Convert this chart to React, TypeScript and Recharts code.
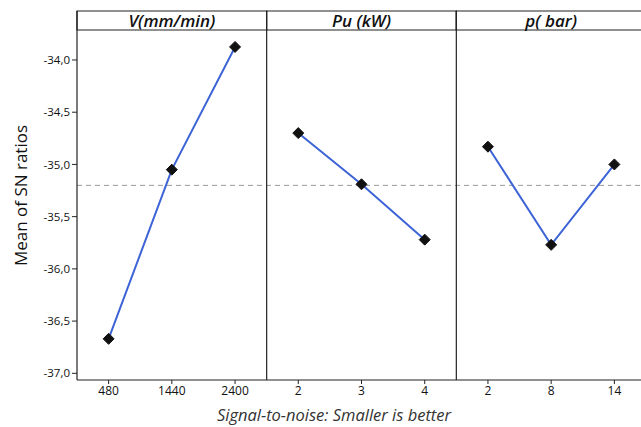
import React from 'react';
import { ComposedChart, Line, XAxis, YAxis, ReferenceLine, ReferenceArea, Label } from 'recharts';

// Factor names and their levels
const factorNames = ['V(mm/min)', 'Pu (kW)', 'p( bar)'];
const vLevels = ['480', '1440', '2400'];
const puLevels = ['2', '3', '4'];
const pLevels = ['2', '8', '14'];

// Mean of SN ratios per level
const vMeans = [-36.67, -35.05, -33.875];
const puMeans = [-34.7, -35.19, -35.72];
const pMeans = [-34.83, -35.77, -35.0];

const yTicks = [-37.0, -36.5, -36.0, -35.5, -35.0, -34.5, -34.0];

const levelSets = [vLevels, puLevels, pLevels];
const meanSets = [vMeans, puMeans, pMeans];
const allLabels = levelSets.flat();
const allValues = meanSets.flat();
const grandMean = allValues.reduce((a, b) => a + b, 0) / allValues.length;

const panelData = meanSets.map((vals, pi) =>
  vals.map((v, i) => ({ x: pi * 3 + i + 0.5, sn: v, label: levelSets[pi][i] }))
);

const yMin = -37.064;
const yMax = -33.531;
const headerBottom = -33.713;

const xTicks = allLabels.map((_, i) => i + 0.5);

const FONT = '"Open Sans", sans-serif';

const Diamond = (props: any) => {
  const { cx, cy } = props;
  if (cx == null || cy == null) return null;
  const r = 5.5;
  return (
    <path
      d={`M${cx},${cy - r}L${cx + r},${cy}L${cx},${cy + r}L${cx - r},${cy}Z`}
      fill="#111"
      stroke="#111"
    />
  );
};

const YTitle = (props: any) => {
  const vb = props.viewBox || {};
  const cy = vb.y + vb.height / 2;
  const x = 27;
  return (
    <text
      x={x}
      y={cy}
      transform={`rotate(-90, ${x}, ${cy})`}
      textAnchor="middle"
      fontFamily={FONT}
      fontSize={17}
      fill="#111"
    >
      Mean of SN ratios
    </text>
  );
};

const XTitle = (props: any) => {
  const vb = props.viewBox || {};
  return (
    <text
      x={334}
      y={vb.y + 41}
      textAnchor="middle"
      fontFamily={FONT}
      fontStyle="italic"
      fontSize={16.5}
      fill="#333"
    >
      Signal-to-noise: Smaller is better
    </text>
  );
};

export default function App() {
  return (
    <div style={{ position: 'absolute', left: 0, top: 0, width: 641, height: 427, overflow: 'hidden', background: '#fff' }}>
      <ComposedChart width={646} height={427} margin={{ top: 11, right: 0, bottom: 0, left: 0 }}>
        <XAxis
          type="number"
          dataKey="x"
          domain={[0, 9]}
          ticks={xTicks}
          interval={0}
          allowDataOverflow
          height={47}
          tickSize={4}
          tickLine={{ stroke: '#222' }}
          axisLine={{ stroke: '#222', strokeWidth: 1.2 }}
          tick={{ fontFamily: FONT, fontSize: 12, fill: '#111' }}
          tickFormatter={(v: number) => allLabels[Math.floor(v)]}
        >
          <Label content={<XTitle />} />
        </XAxis>
        <YAxis
          type="number"
          domain={[yMin, yMax]}
          ticks={yTicks}
          interval={0}
          allowDataOverflow
          width={77}
          tickSize={5}
          tickLine={{ stroke: '#222' }}
          axisLine={{ stroke: '#222', strokeWidth: 1.2 }}
          tick={{ fontFamily: FONT, fontSize: 11.5, fill: '#111' }}
          tickFormatter={(v: number) => v.toFixed(1).replace('.', ',')}
        >
          <Label content={<YTitle />} />
        </YAxis>
        <ReferenceLine y={grandMean} stroke="#9a9a9a" strokeDasharray="5 4" strokeWidth={1} />
        {[3, 6].map((x) => (
          <ReferenceLine key={x} x={x} stroke="#222" strokeWidth={1.2} ifOverflow="visible" />
        ))}
        {factorNames.map((name, i) => (
          <ReferenceArea
            key={name}
            x1={i * 3}
            x2={i * 3 + 3}
            y1={headerBottom}
            y2={yMax}
            fill="#fff"
            fillOpacity={1}
            stroke="#222"
            strokeWidth={1.2}
            ifOverflow="visible"
          >
            <Label
              value={name}
              position="center"
              style={{ fontFamily: FONT, fontStyle: 'italic', fontWeight: 600, fontSize: 17, fill: '#111' }}
            />
          </ReferenceArea>
        ))}
        {panelData.map((d, i) => (
          <Line
            key={i}
            data={d}
            dataKey="sn"
            type="linear"
            stroke="#3d64d6"
            strokeWidth={2}
            dot={<Diamond />}
            activeDot={false}
            isAnimationActive={false}
          />
        ))}
      </ComposedChart>
    </div>
  );
}
